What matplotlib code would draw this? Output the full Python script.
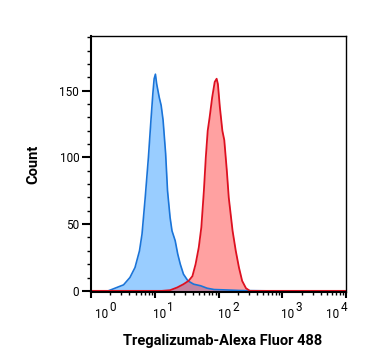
import matplotlib
matplotlib.use("Agg")
import matplotlib.pyplot as plt
import numpy as np
from matplotlib.ticker import LogLocator, NullFormatter, MultipleLocator

plt.rcParams['font.family'] = ['Roboto', 'DejaVu Sans']

# log10 fluorescence, counts
blue_log = [0.0, 0.27, 0.35, 0.51, 0.61, 0.69, 0.76, 0.80, 0.85, 0.90, 0.94, 0.97, 0.99, 1.01,
            1.03, 1.07, 1.10, 1.13, 1.17, 1.20, 1.24, 1.27, 1.32, 1.36, 1.40, 1.45, 1.52,
            1.61, 1.72, 1.82, 1.93, 2.08, 2.35, 2.77, 4.0]
blue_cnt = [0, 0, 1.5, 4.5, 10, 17.5, 30, 42.6, 70, 100, 128, 148, 159, 162.4,
            155, 145, 139, 128, 103, 75, 55, 45, 37.6, 27.6, 20, 12.5, 7.5,
            5, 3.8, 2, 1, 0.75, 0.25, 0, 0]

red_log = [0.0, 1.11, 1.24, 1.35, 1.45, 1.53, 1.59, 1.64, 1.69, 1.73, 1.77, 1.80, 1.83, 1.86,
           1.90, 1.94, 1.97, 1.99, 2.02, 2.06, 2.09, 2.13, 2.16, 2.22, 2.27, 2.32, 2.37,
           2.43, 2.49, 4.0]
red_cnt = [0, 0, 0.5, 2.5, 5, 7.5, 11, 20, 32.6, 47.6, 75, 100, 120, 130,
           145, 156.6, 159, 155, 138, 120, 113, 90, 70, 45, 30, 17.5, 7.5,
           2, 0, 0]

x_decades = [0, 1, 2, 3, 4]
x_label_shift_px = [4, -2, -1, -1, -20]   # left edge of "10" relative to its tick

fig = plt.figure(figsize=(3.67, 3.64), dpi=100)
ax = fig.add_axes([0.248, 0.198, 0.695, 0.703])

bx = 10 ** np.array(blue_log)
rx = 10 ** np.array(red_log)

ax.fill_between(bx, blue_cnt, 0, color='#1e90ff', alpha=0.45, lw=0)
ax.plot(bx, blue_cnt, color='#1a74d8', lw=1.2)
ax.fill_between(rx, red_cnt, 0, color='#ff2020', alpha=0.42, lw=0)
ax.plot(rx, red_cnt, color='#dd1020', lw=1.3)

ax.set_xscale('log')
ax.set_xlim(1, 1e4)
ax.set_ylim(-0.8, 191)

ax.set_xticks([10.0 ** k for k in x_decades])
ax.set_xticklabels([])
ax.xaxis.set_minor_locator(LogLocator(base=10, subs=np.arange(2, 10), numticks=20))
ax.xaxis.set_minor_formatter(NullFormatter())
ax.yaxis.set_major_locator(MultipleLocator(50))
ax.yaxis.set_minor_locator(MultipleLocator(10))

ax.tick_params(axis='y', which='major', direction='out', length=6.5, width=1.5, labelsize=8.5, pad=2)
ax.tick_params(axis='y', which='minor', direction='out', length=3, width=1)
ax.tick_params(axis='x', which='major', direction='out', length=4.3, width=1.5)
ax.tick_params(axis='x', which='minor', direction='out', length=2.5, width=1)

# custom decade labels: "10" with a near full-size exponent
px = 0.72
for k, sh in zip(x_decades, x_label_shift_px):
    ax.annotate('10', xy=(10.0 ** k, 0), xycoords=('data', 'axes fraction'),
                xytext=(sh * px, -26 * px), textcoords='offset points',
                ha='left', va='baseline', fontsize=8.5, annotation_clip=False)
    ax.annotate(str(k), xy=(10.0 ** k, 0), xycoords=('data', 'axes fraction'),
                xytext=((sh + 14.5) * px, -19 * px), textcoords='offset points',
                ha='left', va='baseline', fontsize=8.5, annotation_clip=False)

for s in ax.spines.values():
    s.set_linewidth(1.0)
ax.spines['bottom'].set_linewidth(1.5)
ax.spines['left'].set_linewidth(1.5)

ax.set_xlabel('Tregalizumab-Alexa Fluor 488', fontsize=10.5, fontweight='bold')
ax.xaxis.set_label_coords(0.515, -0.165)
ax.set_ylabel('Count', fontsize=10.5, fontweight='bold', labelpad=14)

fig.savefig('out.png', dpi=100)
